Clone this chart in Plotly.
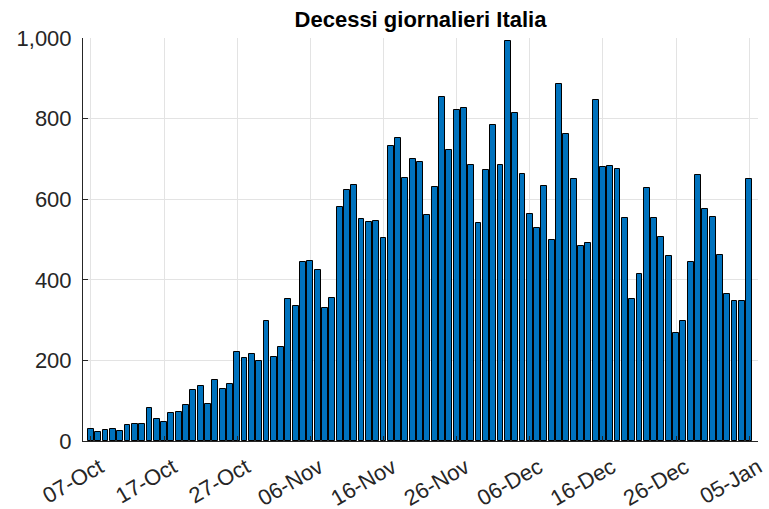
import plotly.graph_objects as go
import pandas as pd

start_date = "2020-10-07"
deaths = [
    31, 22, 28, 29, 26, 39, 41, 43, 83, 55,
    47, 69, 73, 89, 127, 136, 91, 151, 128, 141,
    221, 205, 217, 199, 297, 208, 233, 353, 335, 445,
    446, 425, 331, 356, 580, 623, 636, 550, 544, 546,
    504, 731, 753, 653, 699, 692, 562, 630, 853, 722,
    822, 827, 686, 541, 672, 785, 684, 993, 814, 662,
    564, 528, 634, 499, 887, 761, 649, 484, 491, 846,
    680, 683, 674, 553, 352, 415, 628, 553, 505, 459,
    268, 298, 445, 659, 575, 555, 462, 364, 347, 348,
    649,
]
dates = pd.date_range(start_date, periods=len(deaths), freq="D")
tick_dates = dates[::10]
tick_labels = [d.strftime("%d-%b") for d in tick_dates]
y_ticks = [0, 200, 400, 600, 800, 1000]

day_ms = 86400000
fig = go.Figure(go.Bar(
    x=dates, y=deaths,
    width=0.8 * day_ms,
    marker=dict(color="#0072BD", line=dict(color="#000000", width=1)),
))

font_family = "Liberation Sans, Arial, Helvetica, sans-serif"
fig.update_layout(
    width=769, height=509,
    margin=dict(l=83, r=11, t=38, b=68),
    paper_bgcolor="white", plot_bgcolor="white",
    separators=".,",
    title=dict(text="<b>Decessi giornalieri Italia</b>", x=(83 + 758) / 2 / 769, xanchor="center",
               y=1 - 19 / 509, yanchor="middle",
               font=dict(family=font_family, size=22, color="#000000")),
    showlegend=False,
    bargap=0,
)
fig.update_xaxes(
    range=[dates[0] - pd.Timedelta(hours=26), dates[-1] + pd.Timedelta(hours=29)],
    tickvals=list(tick_dates), ticktext=tick_labels, tickangle=-30,
    tickfont=dict(family=font_family, size=22, color="#262626"),
    ticklabelstandoff=4, ticklabelshift=9, ticklabeloverflow="allow",
    automargin=False,
    showgrid=True, gridcolor="#e3e3e3", gridwidth=1,
    showline=True, linecolor="#262626", linewidth=1,
    ticks="inside", ticklen=5, tickcolor="#262626",
    zeroline=False,
)
fig.update_yaxes(
    range=[0, 1000], tickvals=y_ticks, tickformat=",d",
    tickfont=dict(family=font_family, size=22, color="#262626"),
    ticklabelstandoff=6,
    automargin=False,
    showgrid=True, gridcolor="#e3e3e3", gridwidth=1,
    showline=True, linecolor="#262626", linewidth=1,
    ticks="inside", ticklen=5, tickcolor="#262626",
    zeroline=False,
)
fig.write_html("out.html", config={"displayModeBar": False},
               post_script="document.body.style.margin='0';")
